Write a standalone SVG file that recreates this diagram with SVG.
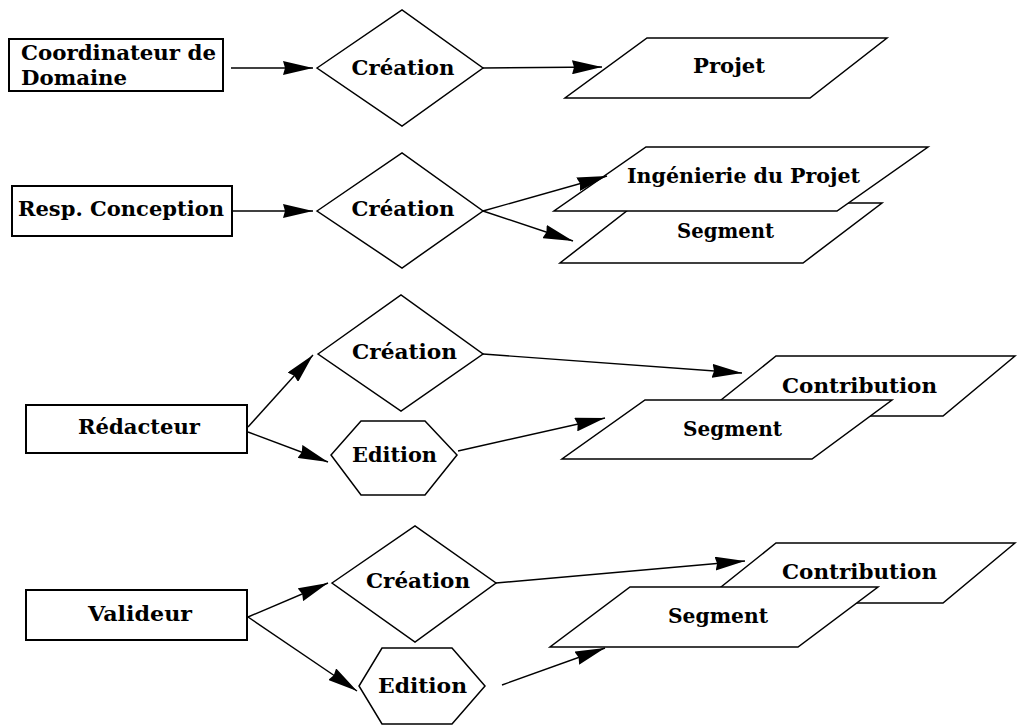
<svg xmlns="http://www.w3.org/2000/svg" width="1017" height="726" viewBox="0 0 1017 726">
  <style>
    .shape { fill: #ffffff; stroke: #000000; stroke-width: 1.5; }
    .box { fill: #ffffff; stroke: #000000; stroke-width: 2; }
    .lbl { font-family: "DejaVu Serif", "Liberation Serif", serif; font-weight: bold; font-size: 20px; fill: #000000; text-anchor: middle; }
    .left { text-anchor: start; }
    .edge { fill: none; stroke: #000000; stroke-width: 1.4; marker-end: url(#arrow); }
  </style>
  <defs>
    <marker id="arrow" viewBox="0 0 30 14" refX="30" refY="7" markerWidth="30" markerHeight="14" markerUnits="userSpaceOnUse" orient="auto">
      <path d="M0,0 L30,7 L0,14 L2,7 z" fill="#000000"/>
    </marker>
  </defs>

  <rect width="1017" height="726" fill="#ffffff"/>

  <!-- Row 1 -->
  <g id="coordinateur">
    <rect class="box" x="9" y="39" width="214" height="52"/>
    <text class="lbl left" x="21" y="60" textLength="195" lengthAdjust="spacingAndGlyphs">Coordinateur de</text>
    <text class="lbl left" x="21" y="85" textLength="106" lengthAdjust="spacingAndGlyphs">Domaine</text>
  </g>
  <g id="creation1">
    <polygon class="shape" points="317,68 402,10 483,68 402,126"/>
    <text class="lbl" x="403" y="75" textLength="103" lengthAdjust="spacingAndGlyphs">Création</text>
  </g>
  <g id="projet">
    <polygon class="shape" points="647,38 887,38 810,98 565,98"/>
    <text class="lbl" x="729" y="73" textLength="72" lengthAdjust="spacingAndGlyphs">Projet</text>
  </g>

  <!-- Row 2 -->
  <g id="resp-conception">
    <rect class="box" x="12" y="186" width="220" height="50"/>
    <text class="lbl" x="121" y="216" textLength="206" lengthAdjust="spacingAndGlyphs">Resp. Conception</text>
  </g>
  <g id="creation2">
    <polygon class="shape" points="317,211 402,153 483,211 402,268"/>
    <text class="lbl" x="403" y="216" textLength="103" lengthAdjust="spacingAndGlyphs">Création</text>
  </g>
  <g id="segment2">
    <polygon class="shape" points="637,203 882,203 803,263 560,263"/>
    <text class="lbl" x="725.5" y="238" textLength="97" lengthAdjust="spacingAndGlyphs">Segment</text>
  </g>
  <g id="ingenierie">
    <polygon class="shape" points="646,147 928,147 837,211 554,211"/>
    <text class="lbl" x="743.5" y="183" textLength="233" lengthAdjust="spacingAndGlyphs">Ingénierie du Projet</text>
  </g>

  <!-- Row 3 -->
  <g id="redacteur">
    <rect class="box" x="26" y="405" width="221" height="48"/>
    <text class="lbl" x="139" y="434" textLength="122" lengthAdjust="spacingAndGlyphs">Rédacteur</text>
  </g>
  <g id="creation3">
    <polygon class="shape" points="318,354 401,295 483,354 401,411"/>
    <text class="lbl" x="404.5" y="359" textLength="105" lengthAdjust="spacingAndGlyphs">Création</text>
  </g>
  <g id="edition3">
    <polygon class="shape" points="361,421 425,421 457,455 425,495 361,495 331,455"/>
    <text class="lbl" x="394.5" y="462" textLength="85" lengthAdjust="spacingAndGlyphs">Edition</text>
  </g>
  <g id="contribution3">
    <polygon class="shape" points="776,356 1015,356 943,416 701,416"/>
    <text class="lbl" x="859.5" y="393" textLength="155" lengthAdjust="spacingAndGlyphs">Contribution</text>
  </g>
  <g id="segment3">
    <polygon class="shape" points="645,400 892,400 812,459 562,459"/>
    <text class="lbl" x="732.5" y="436" textLength="99" lengthAdjust="spacingAndGlyphs">Segment</text>
  </g>

  <!-- Row 4 -->
  <g id="valideur">
    <rect class="box" x="26" y="590" width="221" height="50"/>
    <text class="lbl" x="140" y="621" textLength="104" lengthAdjust="spacingAndGlyphs">Valideur</text>
  </g>
  <g id="creation4">
    <polygon class="shape" points="332,583 415,526 496,583 415,642"/>
    <text class="lbl" x="418" y="588" textLength="104" lengthAdjust="spacingAndGlyphs">Création</text>
  </g>
  <g id="edition4">
    <polygon class="shape" points="382,648 452,648 485,686 452,724 382,724 359,686"/>
    <text class="lbl" x="422.5" y="693" textLength="89" lengthAdjust="spacingAndGlyphs">Edition</text>
  </g>
  <g id="contribution4">
    <polygon class="shape" points="776,543 1015,543 943,603 701,603"/>
    <text class="lbl" x="859.5" y="579" textLength="155" lengthAdjust="spacingAndGlyphs">Contribution</text>
  </g>
  <g id="segment4">
    <polygon class="shape" points="630,587 878,587 798,647 550,647"/>
    <text class="lbl" x="718" y="623" textLength="100" lengthAdjust="spacingAndGlyphs">Segment</text>
  </g>

  <!-- Connectors -->
  <g id="connectors">
    <line class="edge" x1="231" y1="68" x2="313" y2="68"/>
    <line class="edge" x1="483" y1="68" x2="602" y2="67"/>

    <line class="edge" x1="232" y1="211" x2="313" y2="211"/>
    <line class="edge" x1="483" y1="211" x2="607" y2="176"/>
    <line class="edge" x1="483" y1="211" x2="573" y2="241"/>

    <line class="edge" x1="248" y1="427" x2="313" y2="355"/>
    <line class="edge" x1="248" y1="432" x2="328" y2="462"/>
    <line class="edge" x1="483" y1="354" x2="742" y2="373"/>
    <line class="edge" x1="458" y1="451" x2="605" y2="418"/>

    <line class="edge" x1="248" y1="617" x2="328" y2="583"/>
    <line class="edge" x1="248" y1="617" x2="357" y2="691"/>
    <line class="edge" x1="496" y1="583" x2="745" y2="561"/>
    <line class="edge" x1="502" y1="685" x2="605" y2="648"/>
  </g>
</svg>
